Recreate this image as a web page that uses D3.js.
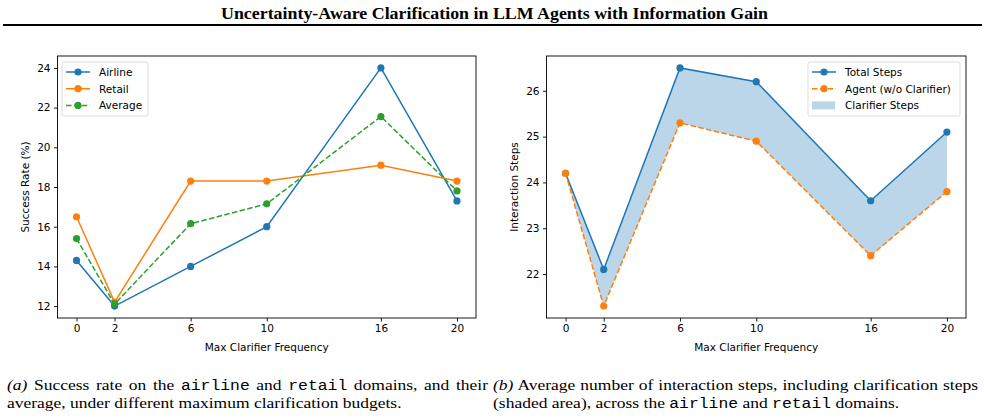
<!DOCTYPE html>
<html>
<head>
<meta charset="utf-8">
<script src="https://cdn.jsdelivr.net/npm/d3@7"></script>
<style>
  body { margin: 0; background: #fff; }
  svg { display: block; }
  .axis text { font-family: "DejaVu Sans", sans-serif; font-size: 10.5px; fill: #000; }
  .axis path, .axis line { stroke: #000; stroke-width: 0.9; }
</style>
</head>
<body>
<svg id="fig" width="985" height="420"></svg>
<script>
// x values (max clarifier frequency)
var budgets = [0, 2, 6, 10, 16, 20];

// panel (a): success rate (%)
var airline = [14.3, 12.0, 14.0, 16.0, 24.0, 17.3];
var retail = [16.5, 12.2, 18.3, 18.3, 19.1, 18.3];
var average = [15.4, 12.1, 16.15, 17.15, 21.55, 17.8];

// panel (b): interaction steps
var totalSteps = [24.2, 22.1, 26.5, 26.2, 23.6, 25.1];
var agentSteps = [24.2, 21.3, 25.3, 24.9, 22.4, 23.8];

var yTicksA = [12, 14, 16, 18, 20, 22, 24];
var yTicksB = [22, 23, 24, 25, 26];

var blue = "#1f77b4", orange = "#ff7f0e", green = "#2ca02c";

var svg = d3.select("#fig");

// title + rule
svg.append("text")
  .attr("x", 221).attr("y", 19)
  .attr("textLength", 547).attr("lengthAdjust", "spacingAndGlyphs")
  .style("font-family", "Liberation Serif, serif")
  .style("font-weight", "bold")
  .style("font-size", "17.5px")
  .text("Uncertainty-Aware Clarification in LLM Agents with Information Gain");
svg.append("line")
  .attr("x1", 3).attr("x2", 982).attr("y1", 25).attr("y2", 25)
  .attr("stroke", "#000").attr("stroke-width", 1.8);

// matplotlib-like padded domain
function padded(vals) {
  var lo = d3.min(vals), hi = d3.max(vals), m = (hi - lo) * 0.05;
  return [lo - m, hi + m];
}

function panel(left, right, yDomain, yTicks, ylabel) {
  var top = 56, bottom = 318;
  var x = d3.scaleLinear().domain(padded(budgets)).range([left, right]);
  var y = d3.scaleLinear().domain(yDomain).range([bottom, top]);
  var g = svg.append("g");

  g.append("g").attr("class", "axis")
    .attr("transform", "translate(0," + bottom + ")")
    .call(d3.axisBottom(x).tickValues(budgets).tickSize(3.5).tickSizeOuter(0).tickPadding(3.5).tickFormat(d3.format("d")))
    .call(function(a) { a.select(".domain").remove(); });
  g.append("g").attr("class", "axis")
    .attr("transform", "translate(" + left + ",0)")
    .call(d3.axisLeft(y).tickValues(yTicks).tickSize(3.5).tickSizeOuter(0).tickPadding(3.5).tickFormat(d3.format("d")))
    .call(function(a) { a.select(".domain").remove(); });

  g.append("rect")
    .attr("x", left).attr("y", top)
    .attr("width", right - left).attr("height", bottom - top)
    .attr("fill", "none").attr("stroke", "#000").attr("stroke-width", 0.9);

  g.append("text")
    .attr("x", (left + right) / 2).attr("y", 351)
    .attr("text-anchor", "middle")
    .style("font-family", "DejaVu Sans, sans-serif").style("font-size", "10.5px")
    .text("Max Clarifier Frequency");
  g.append("text")
    .attr("transform", "translate(" + (left - 28.5) + "," + ((top + bottom) / 2) + ") rotate(-90)")
    .attr("text-anchor", "middle")
    .style("font-family", "DejaVu Sans, sans-serif").style("font-size", "10.5px")
    .text(ylabel);
  return { g: g, x: x, y: y };
}

function series(p, vals, color, dashed) {
  var line = d3.line().x(function(d, i) { return p.x(budgets[i]); }).y(function(d) { return p.y(d); });
  p.g.append("path")
    .attr("d", line(vals))
    .attr("fill", "none").attr("stroke", color).attr("stroke-width", 1.5)
    .attr("stroke-dasharray", dashed ? "5.5,2.4" : null);
  p.g.selectAll(null).data(vals).enter().append("circle")
    .attr("cx", function(d, i) { return p.x(budgets[i]); })
    .attr("cy", function(d) { return p.y(d); })
    .attr("r", 3.6).attr("fill", color);
}

function legend(x0, y0, w, items) {
  var g = svg.append("g");
  g.append("rect").attr("x", x0).attr("y", y0).attr("width", w).attr("height", 54)
    .attr("rx", 2).attr("fill", "#fff").attr("fill-opacity", 0.8)
    .attr("stroke", "#d9d9d9").attr("stroke-width", 0.9);
  items.forEach(function(it, i) {
    var cy = y0 + 10 + i * 16.7;
    if (it.kind === "patch") {
      g.append("rect").attr("x", x0 + 4).attr("y", cy - 4).attr("width", 23).attr("height", 8)
        .attr("fill", blue).attr("fill-opacity", 0.3);
    } else {
      g.append("line").attr("x1", x0 + 4).attr("x2", x0 + 28).attr("y1", cy).attr("y2", cy)
        .attr("stroke", it.color).attr("stroke-width", 1.5)
        .attr("stroke-dasharray", it.dashed ? "5.5,2.4" : null);
      g.append("circle").attr("cx", x0 + 16).attr("cy", cy).attr("r", 3.6).attr("fill", it.color);
    }
    g.append("text").attr("x", x0 + 37).attr("y", cy + 3.8)
      .style("font-family", "DejaVu Sans, sans-serif").style("font-size", "10.5px")
      .text(it.label);
  });
}

// panel (a)
var pa = panel(57.5, 476, padded(airline.concat(retail, average)), yTicksA, "Success Rate (%)");
series(pa, airline, blue, false);
series(pa, retail, orange, false);
series(pa, average, green, true);
legend(62, 62, 86, [
  { label: "Airline", color: blue },
  { label: "Retail", color: orange },
  { label: "Average", color: green, dashed: true }
]);

// panel (b)
var pb = panel(546.5, 966, padded(totalSteps.concat(agentSteps)), yTicksB, "Interaction Steps");
var area = d3.area()
  .x(function(d, i) { return pb.x(budgets[i]); })
  .y0(function(d, i) { return pb.y(agentSteps[i]); })
  .y1(function(d) { return pb.y(d); });
pb.g.append("path").attr("d", area(totalSteps)).attr("fill", blue).attr("fill-opacity", 0.3);
series(pb, totalSteps, blue, false);
series(pb, agentSteps, orange, true);
legend(808, 62, 152, [
  { label: "Total Steps", color: blue },
  { label: "Agent (w/o Clarifier)", color: orange, dashed: true },
  { label: "Clarifier Steps", kind: "patch" }
]);

// captions (slightly stretched horizontally like the source; first lines justified)
var sx = 1.13;
function caption(x, y, parts, justifyTo) {
  var t = svg.append("g").attr("transform", "translate(" + x + "," + y + ") scale(" + sx + ",1)")
    .append("text")
    .style("font-family", "Liberation Serif, serif").style("font-size", "15.5px");
  parts.forEach(function(p) {
    var s = t.append("tspan").text(p[0]);
    if (p[1] === "i") s.style("font-style", "italic");
    if (p[1] === "m") s.style("font-family", "Liberation Mono, monospace").style("font-size", "14.5px");
  });
  if (justifyTo) {
    var w = t.node().getComputedTextLength();
    var nSpaces = parts.map(function(p) { return p[0]; }).join("").split(" ").length - 1;
    var extra = ((justifyTo - x) / sx - w) / nSpaces;
    t.style("word-spacing", extra + "px");
  }
}
caption(7, 389.5, [["(a)", "i"], [" Success rate on the "], ["airline", "m"], [" and "], ["retail", "m"], [" domains, and their"]], 488);
caption(7, 408, [["average, under different maximum clarification budgets."]]);
caption(493, 389.5, [["(b)", "i"], [" Average number of interaction steps, including clarification steps"]], 978);
caption(493, 408, [["(shaded area), across the "], ["airline", "m"], [" and "], ["retail", "m"], [" domains."]]);
</script>
</body>
</html>
